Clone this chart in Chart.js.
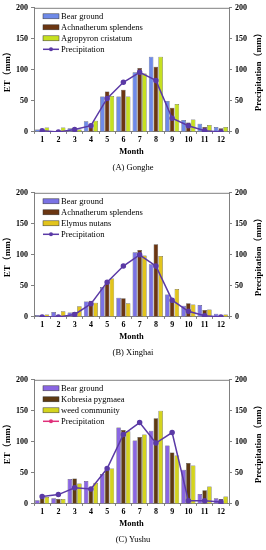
<!DOCTYPE html>
<html>
<head>
<meta charset="utf-8">
<script src="https://cdn.jsdelivr.net/npm/chart.js@4/dist/chart.umd.min.js"></script>
<style>
  html, body { margin: 0; padding: 0; background: #fff; }
  #wrap { position: relative; width: 266px; height: 550px; overflow: hidden; }
  canvas { position: absolute; left: 0; }
</style>
</head>
<body>
<div id="wrap">
  <canvas id="chartA" width="266" height="178" style="top:0px"></canvas>
  <canvas id="chartB" width="266" height="178" style="top:185px"></canvas>
  <canvas id="chartC" width="266" height="178" style="top:372px"></canvas>
</div>
<script>
const months = ['1', '2', '3', '4', '5', '6', '7', '8', '9', '10', '11', '12'];

// (A) Gonghe
const gongheBare = [4, 1.5, 6, 17, 57, 57, 96, 121, 50, 19, 13, 8];
const gongheAchnatherum = [3, 2, 6, 7, 65, 68, 103, 105, 39, 15, 8, 6];
const gongheAgropyron = [7, 7, 4, 18, 58, 57, 94, 121, 45, 20, 11, 8];
const gonghePrecip = [2, 0, 4, 10, 54, 80, 96, 83, 22, 10, 2, 0];

// (B) Xinghai
const xinghaiBare = [3, 8, 7, 25, 48, 31, 104, 85, 36, 18, 19, 5];
const xinghaiAchnatherum = [2, 2, 8, 26, 57, 30, 108, 117, 24, 22, 11, 2];
const xinghaiElymus = [4, 9, 17, 23, 62, 22, 99, 98, 45, 20, 12, 4];
const xinghaiPrecip = [0, 0, 4, 21, 56, 82, 100, 82, 27, 9, 2, 0];

// (C) Yushu
const yushuBare = [6, 9, 40, 37, 48, 123, 102, 118, 94, 55, 16, 9];
const yushuKobresia = [10, 8, 41, 25, 56, 119, 108, 138, 83, 66, 22, 8];
const yushuWeed = [11, 8, 33, 34, 57, 117, 112, 150, 78, 62, 28, 12];
const yushuPrecip = [12, 15, 26, 24, 57, 112, 131, 98, 115, 5, 5, 3];

const SERIF = '"Liberation Serif", "Times New Roman", "Noto Sans CJK SC", serif';
const AXIS = '#808080';

// top border, right title (reads bottom-to-top) and the legend inside the plot
const decor = {
  id: 'decor',
  afterDraw(chart, args, opts) {
    const {ctx, chartArea: a} = chart;
    ctx.save();
    ctx.strokeStyle = AXIS;
    ctx.lineWidth = 1;
    ctx.beginPath();
    ctx.moveTo(a.left, a.top + 0.5);
    ctx.lineTo(a.right, a.top + 0.5);
    ctx.stroke();

    ctx.save();
    ctx.fillStyle = '#000';
    ctx.font = 'bold 9px ' + SERIF;
    ctx.textAlign = 'center';
    ctx.textBaseline = 'middle';
    ctx.translate(259, (a.top + a.bottom) / 2);
    ctx.rotate(-Math.PI / 2);
    ctx.fillText('Precipitation（mm）', 0, 0);
    ctx.restore();

    const x0 = a.left + 9;
    const y0 = a.top + 8.5;
    ctx.font = '8.5px ' + SERIF;
    ctx.textAlign = 'left';
    ctx.textBaseline = 'middle';
    chart.data.datasets.forEach((ds, i) => {
      const y = y0 + i * 11;
      if (ds.type === 'line') {
        const c = opts.lineColor || ds.borderColor;
        ctx.strokeStyle = c;
        ctx.fillStyle = c;
        ctx.lineWidth = 1.5;
        ctx.beginPath();
        ctx.moveTo(x0, y);
        ctx.lineTo(x0 + 16, y);
        ctx.stroke();
        ctx.beginPath();
        ctx.arc(x0 + 8, y, 2, 0, Math.PI * 2);
        ctx.fill();
      } else {
        ctx.fillStyle = ds.backgroundColor;
        ctx.fillRect(x0, y - 2.5, 16, 5);
        ctx.strokeStyle = '#333';
        ctx.lineWidth = 0.5;
        ctx.strokeRect(x0, y - 2.5, 16, 5);
      }
      ctx.fillStyle = '#000';
      ctx.fillText(ds.label, x0 + 18, y + 0.5);
    });
    ctx.restore();
  }
};

function makeChart(id, caption, names, colors, bars, precip, legendLine) {
  const datasets = bars.map((d, i) => ({
    label: names[i],
    data: d,
    backgroundColor: colors[i],
    borderColor: '#333',
    borderWidth: 0.5,
    yAxisID: 'y',
    order: 1,
    categoryPercentage: 0.88,
    barPercentage: 0.95
  }));
  datasets.push({
    type: 'line',
    label: 'Precipitation',
    data: precip,
    yAxisID: 'y1',
    borderColor: '#5b3aa6',
    backgroundColor: '#5b3aa6',
    borderWidth: 1.5,
    pointRadius: 2,
    pointHoverRadius: 2,
    order: 0
  });

  const tickFont = {family: SERIF, size: 8, weight: 'bold'};
  const yCommon = {
    min: 0,
    max: 200,
    ticks: {stepSize: 50, font: tickFont, color: '#000', padding: 3},
    grid: {drawOnChartArea: false, tickLength: 3, color: AXIS},
    border: {color: AXIS}
  };

  new Chart(document.getElementById(id), {
    type: 'bar',
    data: {labels: months, datasets: datasets},
    plugins: [decor],
    options: {
      responsive: false,
      animation: false,
      events: [],
      layout: {padding: {top: 5, left: 0, right: 0, bottom: 0}},
      plugins: {
        legend: {display: false},
        tooltip: {enabled: false},
        title: {
          display: true,
          text: caption,
          position: 'bottom',
          color: '#000',
          font: {family: SERIF, size: 8.5, weight: 'normal'},
          padding: {top: 2, bottom: 4.9}
        },
        decor: {lineColor: legendLine}
      },
      scales: {
        x: {
          grid: {drawOnChartArea: false, tickLength: 2, color: AXIS},
          border: {color: AXIS},
          ticks: {font: tickFont, color: '#000', padding: 1, maxRotation: 0, autoSkip: false},
          title: {
            display: true,
            text: 'Month',
            color: '#000',
            font: {family: SERIF, size: 8.5, weight: 'bold'},
            padding: {top: 0, bottom: 3.8}
          },
          afterFit: (s) => { s.height = 29; }
        },
        y: Object.assign({}, yCommon, {
          position: 'left',
          title: {
            display: true,
            text: 'ET（mm）',
            color: '#000',
            font: {family: SERIF, size: 9, weight: 'bold'},
            padding: {top: 2, bottom: 0}
          },
          afterFit: (s) => { s.width = 34; }
        }),
        y1: Object.assign({}, yCommon, {
          position: 'right',
          afterFit: (s) => { s.width = 37; }
        })
      }
    }
  });
}

makeChart('chartA', '(A) Gonghe',
  ['Bear ground', 'Achnatherum splendens', 'Agropyron cristatum'],
  ['#6f8ae8', '#6b3612', '#c6e020'],
  [gongheBare, gongheAchnatherum, gongheAgropyron], gonghePrecip);

makeChart('chartB', '(B) Xinghai',
  ['Bear ground', 'Achnatherum splendens', 'Elymus nutans'],
  ['#7a72e4', '#6b3612', '#e2c41c'],
  [xinghaiBare, xinghaiAchnatherum, xinghaiElymus], xinghaiPrecip);

makeChart('chartC', '(C) Yushu',
  ['Bear ground', 'Kobresia pygmaea', 'weed community'],
  ['#8a66e2', '#5e3a12', '#d4d41e'],
  [yushuBare, yushuKobresia, yushuWeed], yushuPrecip, '#e0307a');
</script>
</body>
</html>
